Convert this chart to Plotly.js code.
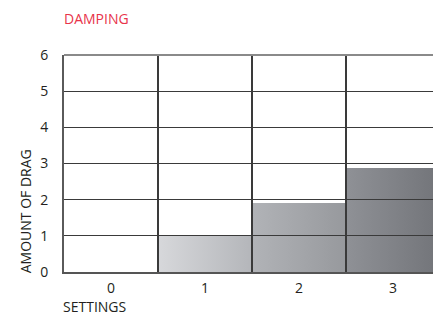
<!DOCTYPE html>
<html><head><meta charset="utf-8">
<script src="https://cdn.plot.ly/plotly-3.0.1.min.js"></script>
<style>html,body{margin:0;padding:0;background:#fff}#c{width:433px;height:316px}</style>
</head><body><div id="c"></div>
<script>
const categories = ['0', '1', '2', '3'];
const dragValues = [0, 1, 1.9, 2.88];
const yTicks = [0, 1, 2, 3, 4, 5, 6];
const chartTitle = 'DAMPING';
const xTitle = 'SETTINGS';
const yTitle = 'AMOUNT OF DRAG';
// gradient stops (left, right) for each bar
const gradLeft  = ['#ffffff', '#d7d8db', '#b1b3b7', '#8f9196'];
const gradRight = ['#ffffff', '#b4b6ba', '#97999d', '#727479'];

const font = {family: '"Open Sans", "Noto Sans", sans-serif', size: 14, color: '#231f20'};

const trace = {
  type: 'bar', x: categories, y: dragValues,
  marker: {color: '#aaaaaa', line: {width: 0}},
  hoverinfo: 'none'
};

const layout = {
  width: 433, height: 316,
  margin: {l: 64, r: 0, t: 55, b: 44},
  paper_bgcolor: '#fff', plot_bgcolor: '#fff',
  font: font,
  bargap: 0,
  showlegend: false,
  xaxis: {type: 'category', range: [-0.5, 3.426], tickson: 'boundaries',
          showgrid: true, gridcolor: '#3a3a3a', gridwidth: 1.3,
          showline: true, linecolor: '#555', linewidth: 1.5, mirror: false,
          ticks: '', ticklen: 0, zeroline: false, tickfont: font, ticklabelstandoff: 3, fixedrange: true},
  yaxis: {range: [0, 6], tickvals: yTicks, showgrid: true, gridcolor: '#3a3a3a', gridwidth: 1.3,
          showline: true, linecolor: '#5a5a5a', linewidth: 2, ticks: '', zeroline: false,
          tickfont: font, ticklabelstandoff: 11, fixedrange: true},
  shapes: [{type: 'line', xref: 'paper', yref: 'paper', x0: 0, x1: 1, y0: 1, y1: 1,
            line: {color: '#8a8a8a', width: 2}}],
  annotations: [
    {text: chartTitle, xref: 'paper', yref: 'paper', x: -0.005, y: 1.168, xanchor: 'left', yanchor: 'middle',
     showarrow: false, font: {family: font.family, size: 14, color: '#e8334a'}},
    {text: xTitle, xref: 'paper', yref: 'paper', x: -0.008, y: -0.157, xanchor: 'left', yanchor: 'middle',
     showarrow: false, font: font},
    {text: yTitle, xref: 'paper', yref: 'paper', x: -0.105, y: 0.281, xanchor: 'center', yanchor: 'middle',
     textangle: -90, showarrow: false, font: font}
  ]
};

Plotly.newPlot('c', [trace], layout, {displayModeBar: false, staticPlot: true}).then(function (gd) {
  const svg = gd.querySelector('.main-svg');
  const defs = svg.querySelector('defs');
  const ns = 'http://www.w3.org/2000/svg';
  gd.querySelectorAll('.bars .point path').forEach(function (p, i) {
    const g = document.createElementNS(ns, 'linearGradient');
    g.setAttribute('id', 'barGrad' + i);
    g.setAttribute('x1', '0'); g.setAttribute('x2', '1'); g.setAttribute('y1', '0'); g.setAttribute('y2', '0');
    [[0, gradLeft[i]], [1, gradRight[i]]].forEach(function (s) {
      const st = document.createElementNS(ns, 'stop');
      st.setAttribute('offset', s[0]); st.setAttribute('stop-color', s[1]);
      g.appendChild(st);
    });
    defs.appendChild(g);
    p.style.fill = 'url(#barGrad' + i + ')';
  });
  // draw grid lines above the bars, as in the reference
  const sub = gd.querySelector('.cartesianlayer .subplot.xy');
  const grid = sub && sub.querySelector(':scope > .gridlayer');
  const over = sub && sub.querySelector(':scope > .overplot');
  if (grid && over) sub.insertBefore(grid, over.nextSibling);
});
</script></body></html>
